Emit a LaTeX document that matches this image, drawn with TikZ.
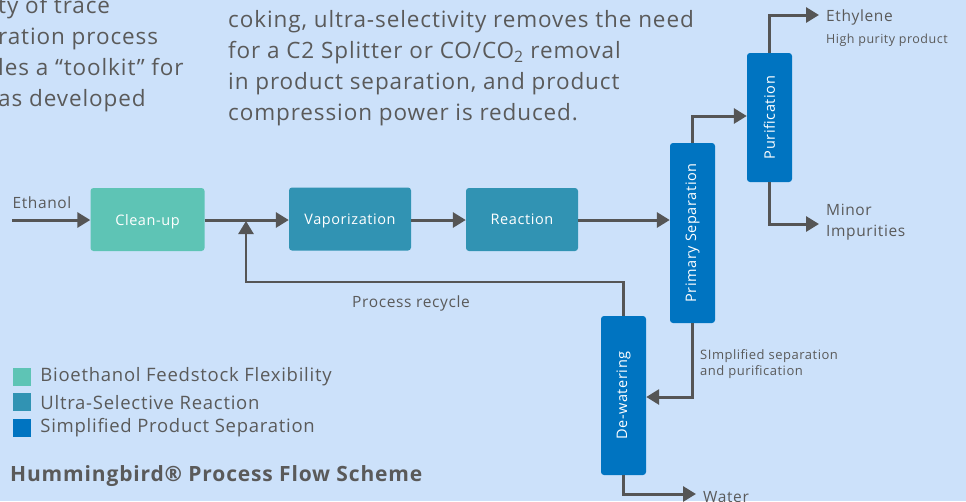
\documentclass[tikz,border=0pt]{standalone}
\usepackage{fontspec}
\setmainfont{Open Sans}[LetterSpace=4.0]
\newfontfamily\parafont{Open Sans}[LetterSpace=4.0]
\usetikzlibrary{positioning,arrows.meta}
\definecolor{bg}{HTML}{CCE1FA}
\definecolor{feed}{HTML}{5EC4B5}
\definecolor{react}{HTML}{3193B3}
\definecolor{sep}{HTML}{0074C1}
\definecolor{ink}{HTML}{5A5A5A}
\definecolor{pipegray}{HTML}{555555}
\tikzset{
  unit/.style={rounded corners=3pt, text=white, inner sep=0pt,
    font=\fontsize{14.5}{18}\selectfont},
  hbox/.style={unit, minimum width=114pt, minimum height=63pt,
    text depth=0pt},
  vbox/.style={unit, minimum width=45pt},
  flow/.style={line width=3pt, draw=pipegray,
    -{Triangle[length=13pt,width=15pt]}},
  lbl/.style={text=ink, inner sep=0pt, font=\fontsize{15.5}{19}\selectfont},
  key/.style={minimum size=18pt, inner sep=0pt},
}
\begin{document}
\begin{tikzpicture}[x=1pt, y=-1pt, node distance=9pt]%
    \fill[bg] (0,0) rectangle (966,501);
    \useasboundingbox (0,0) rectangle (966,501);
    % text above the scheme
    \node[anchor=west, align=left, inner sep=0pt, text=ink,
      font=\parafont\fontsize{22.5}{31}\selectfont] (intro) at (-2,54)
      {ty of trace\\ration process\\les a “toolkit” for\\as developed};
    \node[anchor=west, align=left, inner sep=0pt, text=ink,
      font=\parafont\fontsize{22.5}{31}\selectfont] (summary) at (228,68)
      {coking, ultra-selectivity removes the need\\for a C2 Splitter or CO/CO\textsubscript{2} removal\\in product separation, and product\\compression power is reduced.};
    % units
    \node[hbox, fill=feed] (clean) at (147.5,219.5) {Clean-up};
    \node[hbox, fill=react, minimum width=122pt] (vapor) at (350,219) {Vaporization};
    \node[hbox, fill=react, minimum width=112pt] (reac) at (522,219.5) {Reaction};
    \node[vbox, fill=sep, minimum height=180pt] (prim) at (692.5,233) {\rotatebox{90}{Primary Separation}};
    \node[vbox, fill=sep, minimum height=129pt] (puri) at (769.5,117.5) {\rotatebox{90}{Purification}};
    \node[vbox, fill=sep, minimum height=159pt] (dewat) at (623.5,395.5) {\rotatebox{90}{De-watering}};
    % free ends
    \coordinate (feedin) at (12,220);
    \coordinate (merge) at (246,221);
    \coordinate (recyc) at (246,282);
    \coordinate (ethy) at (819,15);
    \coordinate (imp) at (819,224);
    \coordinate (water) at (696,494);
    % streams
    \draw[flow] (feedin) -- (clean.west |- feedin);
    \draw[flow] (clean.east |- feedin) -- (vapor.west |- feedin);
    \draw[flow] (vapor.east |- feedin) -- (reac.west |- feedin);
    \draw[flow] (reac.east |- feedin) -- (prim.west |- feedin);
    \draw[flow] (prim.north) |- (puri.west |- 0,116);
    \draw[flow] (puri.north) |- (ethy);
    \draw[flow] (puri.south) |- (imp);
    \draw[flow] (prim.south) |- (dewat.east |- 0,397);
    \draw[flow] (dewat.south) |- (water);
    \draw[flow, line width=2.6pt] (dewat.north) |- (recyc) -- (merge);
    % stream labels
    \node[lbl] (ethanol) at (42,203) {Ethanol};
    \node[lbl, anchor=west] (ethylene) at (826,17) {Ethylene};
    \node[lbl, anchor=west, font=\fontsize{12.5}{15}\selectfont] (purity) at (826,40) {High purity product};
    \node[lbl, anchor=west, align=left, font=\fontsize{15.5}{21}\selectfont] (minor) at (826,222.5) {Minor\\Impurities};
    \node[lbl] (recycle) at (411,303) {Process recycle};
    \node[lbl, anchor=west, align=left, font=\fontsize{13}{16}\selectfont] (simple) at (700,364) {SImplified separation\\and purification};
    \node[lbl, anchor=west] (waterlbl) at (703,497) {Water};
    % legend
    \node[key, fill=feed] (k1) at (22,377) {};
    \node[key, fill=react, below=7pt of k1] (k2) {};
    \node[key, fill=sep, below=7pt of k2] (k3) {};
    \node[lbl, font=\fontsize{18.5}{20}\selectfont, right=of k1] {Bioethanol Feedstock Flexibility};
    \node[lbl, font=\fontsize{18.5}{20}\selectfont, right=of k2] {Ultra-Selective Reaction};
    \node[lbl, font=\fontsize{18.5}{20}\selectfont, right=of k3] {Simplified Product Separation};
    \node[lbl, anchor=west, font=\bfseries\fontsize{21}{24}\selectfont] (title) at (10,476) {Hummingbird® Process Flow Scheme};
\end{tikzpicture}
\end{document}
